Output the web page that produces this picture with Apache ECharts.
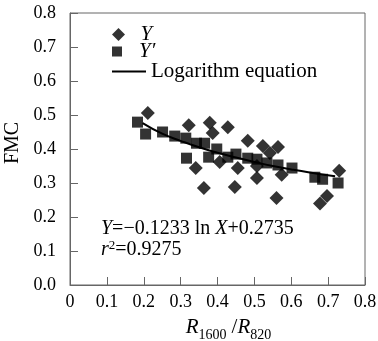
<!DOCTYPE html>
<html>
<head>
<meta charset="utf-8">
<script src="https://cdn.jsdelivr.net/npm/echarts@6/dist/echarts.min.js"></script>
<style>html,body{margin:0;padding:0;background:#fff}#c{width:378px;height:341px}</style>
</head>
<body>
<div id="c"></div>
<script>
// Y (diamonds): [R1600/R820, FMC]
var yPoints = [
  [0.211,0.506],[0.322,0.470],[0.379,0.477],[0.387,0.447],[0.428,0.464],
  [0.482,0.424],[0.523,0.409],[0.564,0.406],[0.542,0.388],[0.341,0.344],
  [0.406,0.362],[0.455,0.344],[0.507,0.350],[0.507,0.315],[0.574,0.324],
  [0.363,0.285],[0.447,0.288],[0.560,0.256],[0.678,0.240],[0.697,0.262],
  [0.730,0.336]
];
// Y' (squares)
var yPrimePoints = [
  [0.183,0.479],[0.205,0.444],[0.251,0.450],[0.284,0.438],[0.314,0.432],
  [0.343,0.417],[0.365,0.417],[0.316,0.373],[0.376,0.376],[0.398,0.400],
  [0.428,0.376],[0.450,0.385],[0.482,0.373],[0.507,0.370],[0.534,0.359],
  [0.564,0.353],[0.602,0.344],[0.664,0.317],[0.685,0.311],[0.727,0.300]
];
// Logarithm equation curve
var curvePoints = [
  [0.197,0.476],[0.25,0.445],[0.30,0.424],[0.35,0.405],[0.40,0.389],
  [0.45,0.375],[0.50,0.362],[0.55,0.350],[0.60,0.340],[0.65,0.331],
  [0.719,0.320]
];
var xTickLabels = ['0','0.1','0.2','0.3','0.4','0.5','0.6','0.7','0.8'];
var yTickLabels = ['0.0','0.1','0.2','0.3','0.4','0.5','0.6','0.7','0.8'];
var seriesNames = ['Y','Y\u2032','Logarithm equation'];
var equationText = '{i|Y}=\u22120.1233 ln {i|X}+0.2735\n{i|r}{sup|2}=0.9275';

var FF = 'Liberation Serif';
var AX = '#666';
function legendText(italic) {
  return {fontFamily: FF, fontSize: 21, color: '#000', lineHeight: 18,
    fontStyle: italic ? 'italic' : 'normal'};
}
var chart = echarts.init(document.getElementById('c'));
chart.setOption({
  animation: false,
  backgroundColor: '#fff',
  grid: {left: 70, right: 13, top: 13, bottom: 56, show: true, borderColor: AX, borderWidth: 1,
    outerBoundsMode: 'none', containLabel: false},
  legend: [
    {left: 107, top: 19, itemWidth: 34, itemHeight: 13, data: [seriesNames[0]],
      icon: 'path://M0,5L5,0L10,5L5,10Z', textStyle: legendText(true)},
    {left: 107, top: 36, itemWidth: 34, itemHeight: 10, data: [seriesNames[1]],
      icon: 'path://M0,0L10,0L10,10L0,10Z', textStyle: legendText(true)},
    {left: 107, top: 56, itemWidth: 34, itemHeight: 2, data: [seriesNames[2]],
      icon: 'rect', textStyle: legendText(false)}
  ],
  xAxis: {
    type: 'value', min: 0, max: 0.8, interval: 0.1,
    name: '{i|R}{s|1600}{n|/}{i|R}{s|820}', nameLocation: 'middle', nameGap: 31,
    nameTextStyle: {fontFamily: FF, color: '#000', padding: [0,0,0,22],
      rich: {
        i: {fontFamily: FF, fontSize: 21, fontStyle: 'italic', color: '#000', lineHeight: 22, verticalAlign: 'middle'},
        n: {fontFamily: FF, fontSize: 21, color: '#000', lineHeight: 22, verticalAlign: 'middle', padding: [0,0,0,5]},
        s: {fontFamily: FF, fontSize: 14, color: '#000', lineHeight: 13, verticalAlign: 'bottom', padding: [0,0,-4,0]}
      }},
    axisLine: {lineStyle: {color: AX}},
    axisTick: {inside: true, length: 8, lineStyle: {color: AX}},
    splitLine: {show: false},
    axisLabel: {fontFamily: FF, fontSize: 18, color: '#000', margin: 8,
      formatter: function (v, i) { return xTickLabels[i]; }}
  },
  yAxis: {
    type: 'value', min: 0, max: 0.8, interval: 0.1,
    name: 'FMC', nameLocation: 'middle', nameRotate: 90, nameGap: 44,
    nameTextStyle: {fontFamily: FF, fontSize: 20, color: '#000', padding: [0,0,0,12]},
    axisLine: {show: true, lineStyle: {color: AX}},
    axisTick: {show: true, inside: true, length: 8, lineStyle: {color: AX}},
    splitLine: {show: false},
    axisLabel: {fontFamily: FF, fontSize: 18, color: '#000', margin: 14,
      formatter: function (v, i) { return yTickLabels[i]; }}
  },
  graphic: [{
    type: 'text', left: 101, top: 218,
    style: {
      text: equationText, fontFamily: FF, fontSize: 20, fill: '#000', lineHeight: 21,
      rich: {
        i: {fontFamily: FF, fontSize: 20, fontStyle: 'italic', fill: '#000', lineHeight: 21},
        sup: {fontFamily: FF, fontSize: 13, fill: '#000', verticalAlign: 'top', lineHeight: 21, padding: [0,0,6,0]}
      }
    }
  }],
  series: [
    {name: seriesNames[0], type: 'scatter', symbol: 'diamond', symbolSize: 14, data: yPoints,
      itemStyle: {color: '#000'}, z: 3},
    {name: seriesNames[1], type: 'scatter', symbol: 'rect', symbolSize: 11, data: yPrimePoints,
      itemStyle: {color: '#000'}, z: 3},
    {name: seriesNames[2], type: 'line', data: curvePoints, smooth: true, symbol: 'none', showSymbol: false,
      lineStyle: {color: '#000', width: 2}, itemStyle: {color: '#000'}, z: 4}
  ]
});
</script>
</body>
</html>
